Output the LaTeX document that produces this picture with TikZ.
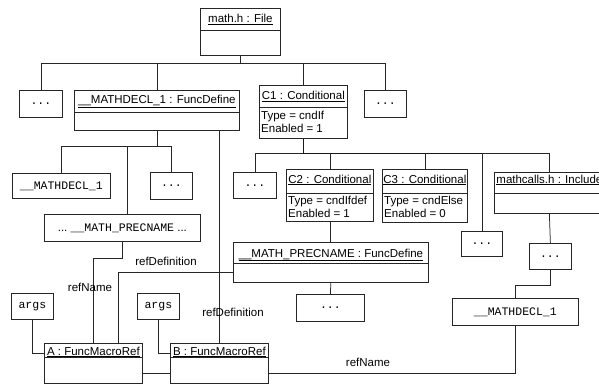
\documentclass[tikz,border=0pt]{standalone}
\usepackage{fontspec}
\setmainfont{Liberation Sans}
\setmonofont{Liberation Mono}

\tikzset{
  objframe/.style={draw=black!85, line width=0.75pt, fill=white, inner sep=0pt, anchor=north west},
  wirestyle/.style={draw=black!85, line width=0.75pt},
  heavywire/.style={draw=black!90, line width=1.4pt},
  objtitle/.style={anchor=base, inner sep=0pt},
  objattr/.style={anchor=base west, inner sep=0pt},
  linklabel/.style={inner sep=0pt},
  mono/.style={font=\fontsize{11.5pt}{13pt}\selectfont\ttfamily},
}

% UML object: name, left, top, width, height, header height, title baseline, title
\newcommand\umlobject[8]{%
  \node[objframe, minimum width=#4pt, minimum height=#5pt] (#1) at (#2,#3) {};
  \draw[wirestyle] (#1.north west) ++(0,#6) -- ++(#4,0);
  \path (#1.north) ++(0,#7) node[objtitle] {\underline{#8}};
}

\begin{document}
\begin{tikzpicture}[x=1pt, y=-1pt, font=\fontsize{11.5pt}{13pt}\selectfont]
\useasboundingbox (0,0) rectangle (599,385);
\fill[white] (0,0) rectangle (599,385);
\clip (0,0) rectangle (599,385);

% ---- objects ----
\umlobject{file}{200}{8}{80}{47}{22}{15}{math.h : File}
\umlobject{fdA}{74}{90}{165}{40}{22}{14}{\_\_MATHDECL\_1 : FuncDefine}
\umlobject{C1}{259}{85}{88}{53}{22}{15}{C1 : Conditional}
\umlobject{C2}{286}{169}{87}{52}{24}{14}{C2 : Conditional}
\umlobject{C3}{382}{169}{85}{53}{24}{14}{C3 : Conditional}
\umlobject{incl}{494}{172}{110}{41}{21}{11}{mathcalls.h : Include}
\umlobject{fdB}{233}{242}{195}{40}{21}{15}{\_\_MATH\_PRECNAME : FuncDefine}
\umlobject{refA}{44}{343}{98}{40}{14}{12}{A : FuncMacroRef}
\umlobject{refB}{170}{343}{98}{40}{14}{12}{B : FuncMacroRef}

% attribute compartments
\node[objattr] at (261,119) {Type = cndIf};
\node[objattr] at (261,132) {Enabled = 1};
\node[objattr] at (288,204) {Type = cndIfdef};
\node[objattr] at (288,217) {Enabled = 1};
\node[objattr] at (384,204) {Type = cndElse};
\node[objattr] at (384,217) {Enabled = 0};

% ---- plain boxes ----
\node[objframe, mono, minimum width=43pt, minimum height=27pt] (dotsA) at (19,90) {...};
\node[objframe, mono, minimum width=42pt, minimum height=27pt] (dotsB) at (364,90) {...};
\node[objframe, mono, minimum width=98pt, minimum height=25pt] (declA) at (12,173) {\_\_MATHDECL\_1};
\node[objframe, mono, minimum width=42pt, minimum height=27pt] (dotsC) at (150,172) {...};
\node[objframe, mono, minimum width=43pt, minimum height=26pt] (dotsD) at (233,172) {...};
\node[objframe, minimum width=156pt, minimum height=27pt] (prec) at (44,214)
  {...\ {\ttfamily\_\_MATH\_PRECNAME}\ ...};
\node[objframe, mono, minimum width=41pt, minimum height=25pt] (dotsE) at (461,231) {...};
\node[objframe, mono, minimum width=42pt, minimum height=26pt] (dotsF) at (529,243) {...};
\node[objframe, mono, minimum width=68pt, minimum height=27pt] (dotsG) at (296,294) {...};
\node[objframe, mono, minimum width=42pt, minimum height=26pt] (argsA) at (11,293) {args};
\node[objframe, mono, minimum width=42pt, minimum height=26pt] (argsB) at (137,293) {args};
\node[objframe, mono, minimum width=126pt, minimum height=27pt] (declB) at (452,298) {\_\_MATHDECL\_1};

% ---- containment trees ----
\draw[wirestyle] (file.south) -- ++(0,8) coordinate (fbus);
\draw[wirestyle] (dotsA.north) |- (fbus) -| (dotsB.north);
\draw[wirestyle] (fdA.north) -- (fdA.north |- fbus);
\draw[wirestyle] (C1.north) -- (C1.north |- fbus);

\draw[wirestyle] (fdA.south) -- ++(0,16) coordinate (dbus);
\draw[wirestyle] (declA.north) |- (dbus) -| (dotsC.north);
\draw[wirestyle] ([xshift=5pt]prec.north) -- ([xshift=5pt]prec.north |- dbus);

\draw[wirestyle] (C1.south) -- ++(0,15) coordinate (cbus);
\draw[wirestyle] (dotsD.north) |- (cbus) -| (incl.north);
\draw[wirestyle] (C2.north) -- (C2.north |- cbus);
\draw[wirestyle] (C3.north) -- (C3.north |- cbus);
\draw[wirestyle] (dotsE.north) -- (dotsE.north |- cbus);
\draw[heavywire] (C1.south) |- (dotsE.north |- cbus);

\draw[wirestyle] (C2.south) -- (C2.south |- fdB.north);
\draw[wirestyle] (fdB.south) -- (dotsG.north);
\draw[wirestyle] (incl.south) -- (dotsF.north);
\draw[wirestyle] (dotsF.south) -- ++(0,16) -| (declB.north);

% ---- references ----
\draw[wirestyle] (argsA.south) |- ([yshift=10pt]refA.west);
\draw[wirestyle] (argsB.south) |- ([yshift=10pt]refB.west);
\draw[wirestyle] ([yshift=-10pt]refA.east) -- ([yshift=-10pt]refB.west);
\draw[wirestyle] (prec.south) -- ++(0,17) -| (refA.north);
\draw[wirestyle] ([yshift=-10pt]fdB.west) -| ([xshift=25pt]refA.north);
\draw[wirestyle] (refB.north |- fdA.south) -- (refB.north);
\draw[wirestyle] (declB.south) |- ([yshift=-10pt]refB.east);

\node[linklabel] at (166,261) {refDefinition};
\node[linklabel] at (90,287) {refName};
\node[linklabel] at (233,312) {refDefinition};
\node[linklabel] at (368,362) {refName};
\end{tikzpicture}
\end{document}
